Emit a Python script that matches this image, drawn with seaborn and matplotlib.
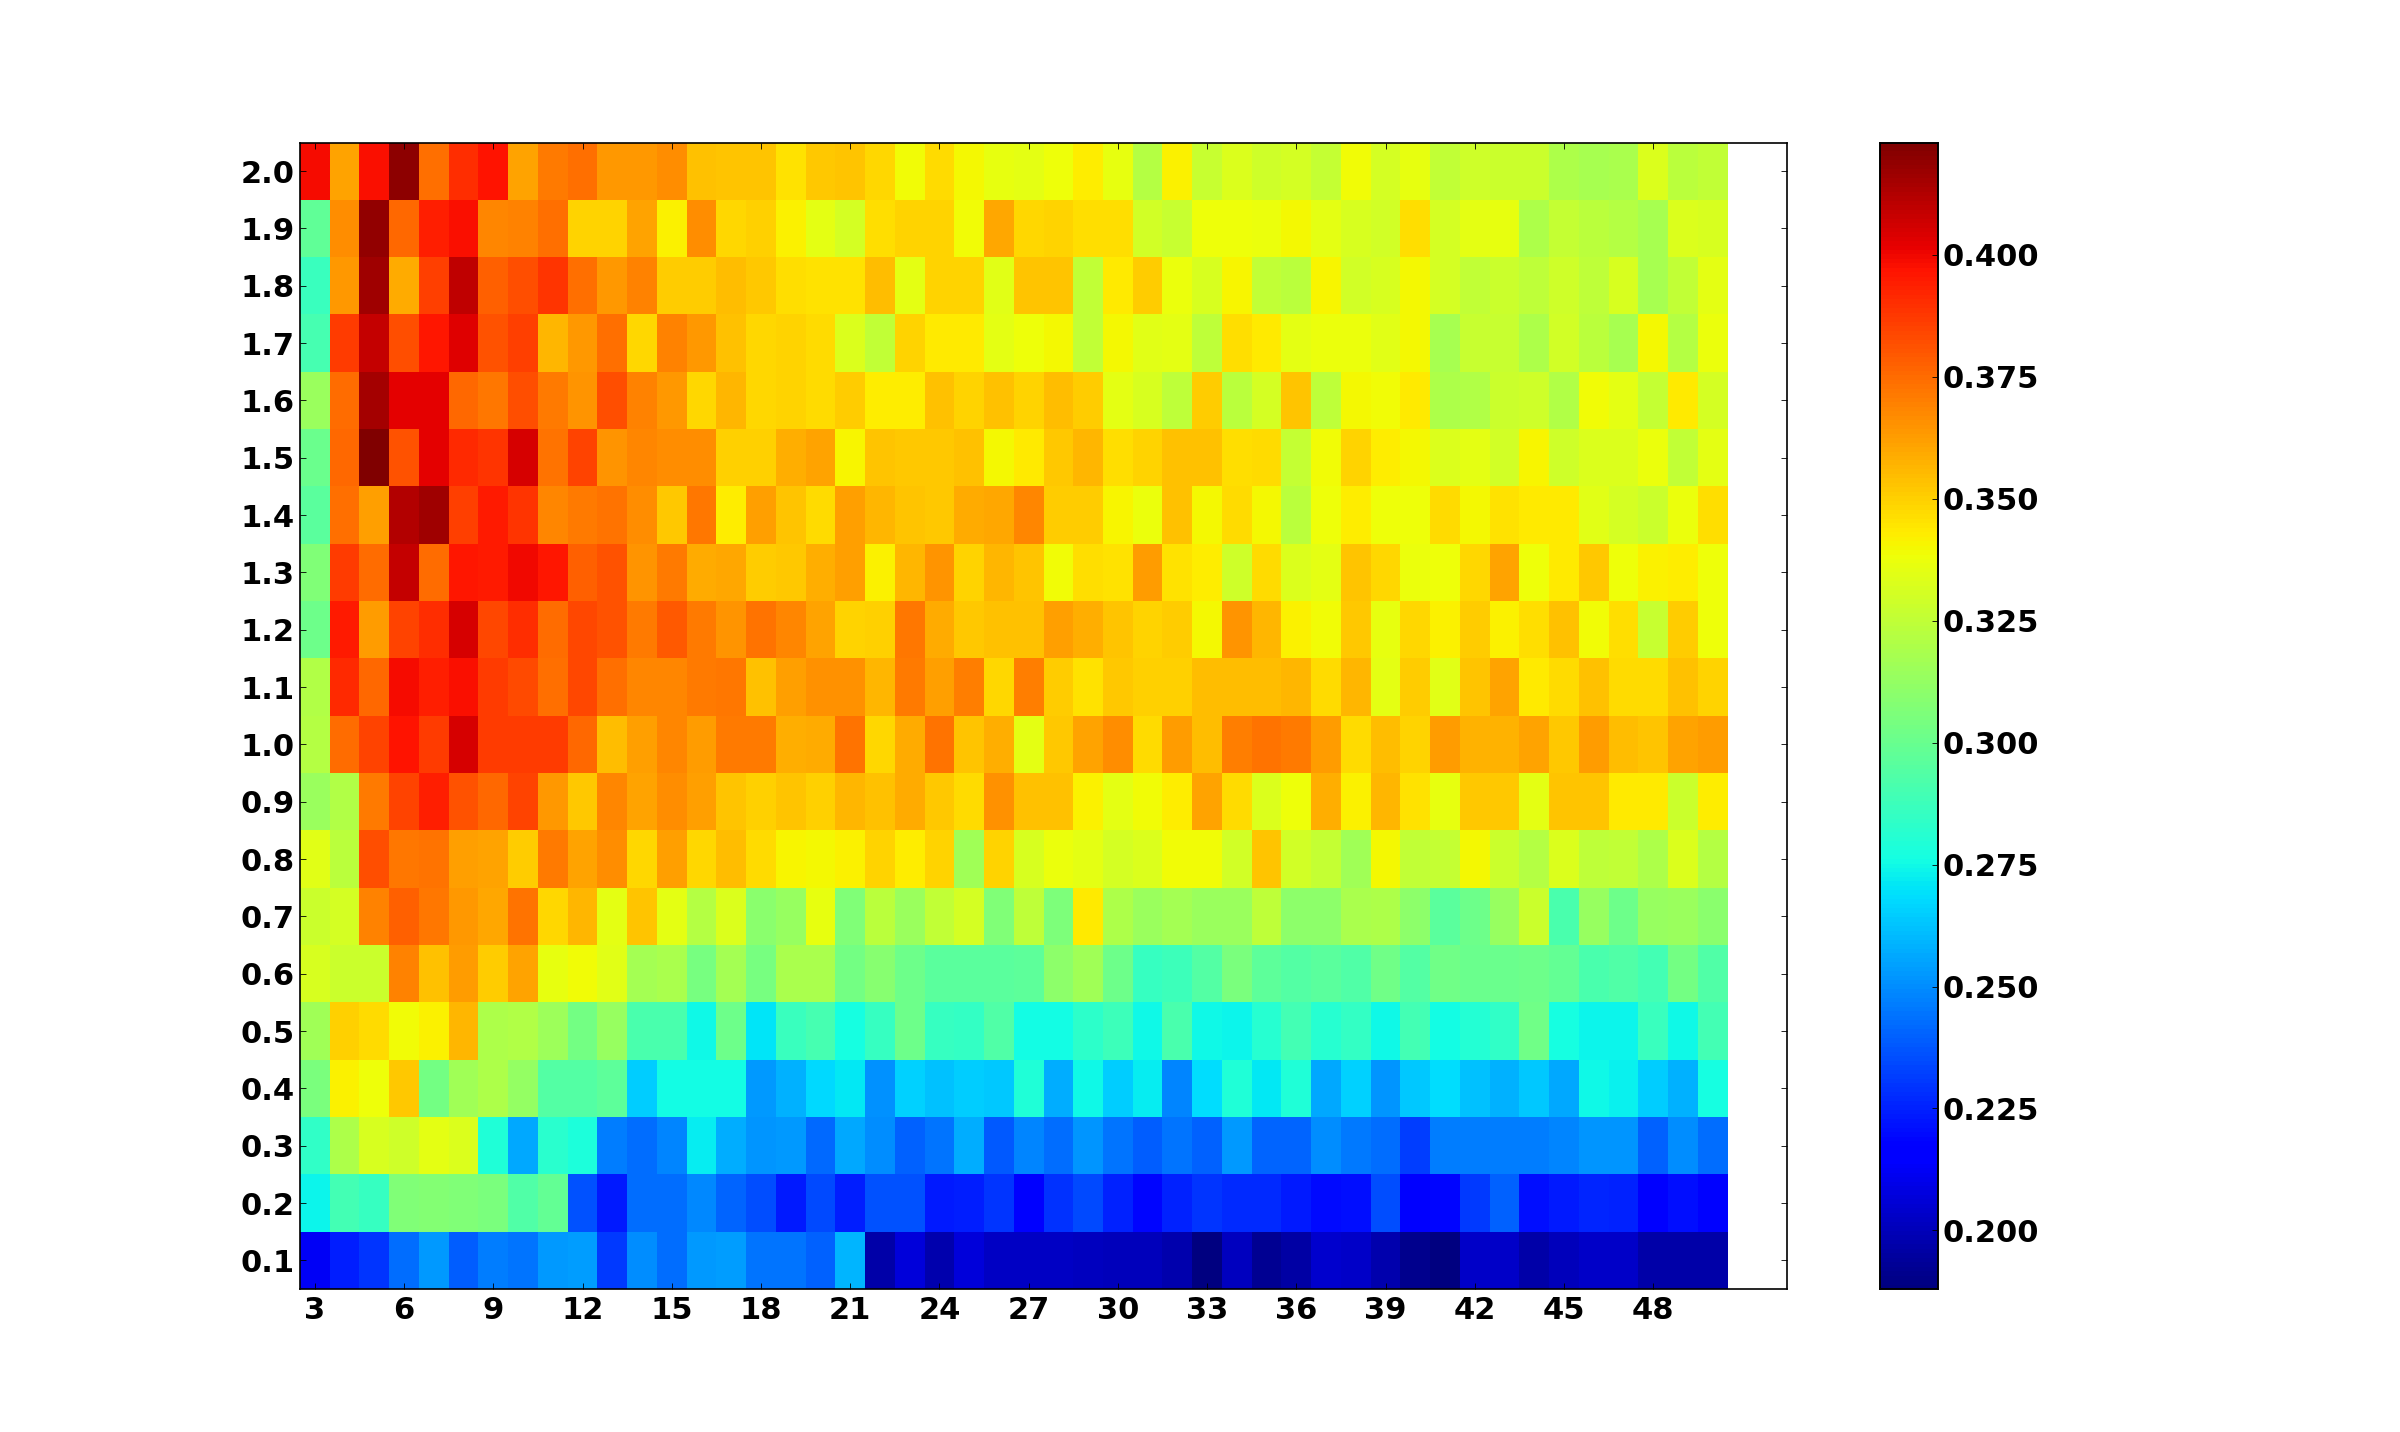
# coding=utf-8
from matplotlib import pyplot as plt
import numpy as np
import pandas as pd
import seaborn as sns

## values, in thousandths, x = 3..50
x_values = list(range(3, 51))
y_values = ['2.0', '1.9', '1.8', '1.7', '1.6', '1.5', '1.4', '1.3', '1.2', '1.1',
            '1.0', '0.9', '0.8', '0.7', '0.6', '0.5', '0.4', '0.3', '0.2', '0.1']

row_20 = [399, 361, 398, 420, 374, 390, 397, 361, 371, 374, 364, 364, 367, 354, 353, 353, 345, 352, 353, 348, 339, 347, 340, 336,
          335, 338, 343, 336, 322, 342, 327, 333, 329, 331, 326, 339, 331, 336, 325, 329, 328, 328, 320, 318, 319, 333, 323, 325]
row_19 = [298, 367, 419, 376, 394, 398, 368, 369, 374, 349, 349, 361, 342, 367, 348, 350, 342, 335, 331, 346, 349, 349, 339, 360,
          348, 349, 346, 346, 330, 327, 338, 338, 337, 340, 335, 332, 330, 346, 331, 335, 336, 320, 326, 323, 322, 318, 333, 332]
row_18 = [287, 364, 416, 359, 386, 410, 378, 382, 389, 374, 364, 369, 351, 351, 355, 352, 346, 345, 345, 355, 335, 349, 349, 334,
          353, 353, 325, 344, 351, 337, 332, 341, 325, 323, 341, 330, 332, 340, 331, 325, 328, 324, 329, 324, 332, 318, 325, 335]
row_17 = [290, 387, 409, 382, 396, 403, 381, 386, 356, 364, 374, 348, 369, 364, 354, 348, 349, 347, 333, 325, 349, 344, 344, 335,
          338, 340, 325, 340, 334, 335, 324, 346, 344, 335, 337, 337, 334, 340, 318, 327, 327, 320, 330, 323, 318, 340, 322, 337]
row_16 = [314, 375, 415, 402, 402, 376, 372, 382, 371, 365, 382, 369, 364, 348, 356, 348, 349, 347, 351, 343, 343, 354, 349, 354,
          349, 355, 351, 335, 332, 324, 351, 323, 331, 353, 324, 340, 339, 344, 320, 321, 328, 329, 321, 339, 335, 326, 344, 331]
row_15 = [300, 376, 423, 381, 402, 391, 389, 405, 373, 385, 365, 368, 367, 367, 350, 350, 358, 361, 341, 353, 352, 352, 354, 340,
          344, 352, 356, 346, 349, 354, 354, 346, 347, 326, 339, 349, 343, 340, 333, 335, 330, 341, 329, 333, 333, 337, 325, 335]
row_14 = [296, 374, 362, 412, 416, 386, 395, 389, 368, 371, 373, 367, 352, 372, 343, 362, 353, 347, 362, 356, 353, 352, 359, 360,
          368, 351, 351, 341, 337, 354, 340, 347, 340, 323, 338, 343, 338, 338, 347, 340, 345, 344, 344, 334, 331, 328, 337, 346]
row_13 = [307, 387, 375, 409, 375, 396, 395, 400, 396, 378, 381, 365, 371, 359, 360, 351, 352, 358, 362, 342, 356, 365, 349, 356,
          353, 339, 346, 345, 363, 345, 343, 329, 347, 333, 335, 353, 348, 337, 338, 348, 361, 338, 344, 352, 338, 342, 343, 338]
row_12 = [301, 395, 363, 385, 390, 405, 384, 390, 375, 384, 381, 371, 379, 371, 365, 373, 368, 361, 349, 350, 372, 359, 352, 354,
          354, 362, 358, 353, 349, 351, 340, 365, 356, 342, 339, 352, 336, 348, 342, 351, 342, 346, 354, 339, 346, 327, 351, 338]
row_11 = [321, 391, 376, 399, 394, 398, 387, 383, 374, 384, 374, 368, 368, 371, 372, 354, 362, 366, 366, 356, 371, 362, 370, 348,
          370, 351, 345, 352, 350, 350, 355, 355, 355, 356, 347, 356, 335, 351, 334, 353, 361, 344, 347, 354, 347, 347, 354, 349]
row_10 = [322, 375, 385, 397, 387, 405, 387, 387, 387, 376, 355, 362, 368, 363, 371, 371, 358, 359, 373, 348, 359, 373, 353, 358,
          335, 352, 361, 367, 347, 363, 355, 370, 373, 371, 363, 347, 355, 349, 363, 357, 357, 361, 352, 363, 355, 353, 361, 363]
row_09 = [314, 321, 371, 385, 394, 381, 376, 385, 364, 352, 368, 361, 367, 362, 353, 350, 353, 350, 356, 354, 359, 352, 347, 366,
          354, 354, 342, 335, 339, 343, 361, 347, 333, 338, 358, 342, 356, 345, 336, 352, 352, 335, 353, 353, 344, 344, 328, 343]
row_08 = [334, 323, 382, 372, 373, 362, 361, 351, 371, 361, 367, 348, 362, 348, 355, 347, 341, 340, 342, 349, 343, 349, 316, 349,
          332, 337, 335, 331, 333, 339, 339, 330, 353, 330, 326, 316, 340, 325, 326, 340, 328, 322, 333, 324, 325, 320, 333, 322]
row_07 = [328, 331, 369, 378, 372, 364, 360, 373, 348, 356, 335, 353, 335, 322, 333, 310, 313, 336, 307, 323, 314, 325, 331, 307,
          324, 306, 344, 320, 314, 317, 314, 314, 324, 311, 311, 319, 320, 311, 296, 301, 313, 328, 291, 313, 301, 313, 314, 310]
row_06 = [332, 328, 328, 369, 354, 363, 351, 361, 336, 339, 334, 317, 319, 304, 317, 304, 319, 319, 303, 309, 301, 296, 296, 296,
          297, 311, 316, 301, 286, 288, 294, 305, 297, 294, 296, 293, 302, 294, 302, 300, 300, 301, 299, 291, 293, 289, 303, 293]
row_05 = [316, 350, 347, 339, 342, 356, 320, 321, 315, 303, 313, 291, 291, 275, 301, 270, 287, 290, 277, 286, 301, 286, 285, 293,
          276, 276, 283, 288, 275, 291, 275, 274, 281, 289, 281, 285, 275, 289, 276, 280, 284, 302, 277, 274, 274, 287, 275, 289]
row_04 = [305, 342, 338, 352, 303, 316, 320, 312, 294, 294, 297, 265, 276, 276, 276, 253, 258, 267, 271, 251, 266, 262, 265, 264,
          279, 257, 275, 265, 272, 248, 268, 279, 271, 279, 256, 266, 252, 264, 268, 262, 258, 264, 256, 275, 273, 265, 258, 277]
row_03 = [284, 320, 332, 329, 335, 333, 279, 256, 282, 278, 246, 243, 248, 272, 257, 252, 253, 242, 256, 250, 240, 244, 257, 238,
          248, 243, 252, 244, 239, 244, 240, 253, 241, 241, 250, 245, 243, 232, 246, 246, 246, 246, 248, 252, 252, 240, 250, 243]
row_02 = [274, 289, 286, 307, 308, 307, 305, 293, 299, 236, 223, 243, 243, 249, 241, 235, 223, 234, 224, 236, 236, 223, 224, 230,
          214, 229, 234, 225, 219, 225, 230, 227, 227, 223, 220, 221, 235, 215, 219, 231, 240, 221, 223, 226, 225, 214, 221, 218]
row_01 = [212, 224, 230, 243, 253, 239, 246, 244, 253, 254, 231, 250, 243, 253, 254, 244, 244, 240, 259, 197, 207, 198, 207, 202,
          202, 202, 201, 200, 200, 198, 188, 201, 192, 196, 204, 203, 198, 191, 188, 203, 203, 197, 200, 203, 203, 197, 197, 197]

rows = [row_20, row_19, row_18, row_17, row_16, row_15, row_14, row_13, row_12, row_11,
        row_10, row_09, row_08, row_07, row_06, row_05, row_04, row_03, row_02, row_01]
cbar_ticks = [0.200, 0.225, 0.250, 0.275, 0.300, 0.325, 0.350, 0.375, 0.400]
vmin = 0.188
vmax = 0.423


def style_axis(axis, length):
    for spine in axis.spines.values():
        spine.set_visible(True)
        spine.set_color('black')
        spine.set_linewidth(1.2)
    axis.tick_params(which='both', direction='in', length=length, width=0.6, color='black')


def main():
    plt.rcParams['font.family'] = ['DejaVu Sans']
    plt.rcParams['font.weight'] = 'bold'

    data = pd.DataFrame(np.array(rows) / 1000.0, index=y_values, columns=x_values)

    fig = plt.figure(figsize=(24, 14.32), dpi=100)
    ax = fig.add_axes([300 / 2400, 1 - 1289 / 1432, 1487 / 2400, 1146.5 / 1432])
    cax = fig.add_axes([1880 / 2400, 1 - 1289 / 1432, 58 / 2400, 1146.5 / 1432])

    sns.heatmap(data, cmap='jet', vmin=vmin, vmax=vmax, ax=ax, cbar_ax=cax,
                xticklabels=3, yticklabels=1, rasterized=True)

    ## axis runs two cells past the data, blank on the right
    ax.set_xlim(0, 50)
    ax.set_xlabel('')
    ax.set_ylabel('')
    style_axis(ax, 4)
    ax.tick_params(top=True, right=True, bottom=True, left=True)
    ax.tick_params(axis='x', labelsize=22, pad=5, labelrotation=0)
    ax.tick_params(axis='y', labelsize=22, pad=4, labelrotation=0)
    for label in ax.get_yticklabels():
        label.set_verticalalignment('center_baseline')

    cax.set_yticks(cbar_ticks)
    cax.set_yticklabels(['%.3f' % t for t in cbar_ticks])
    style_axis(cax, 4)
    cax.tick_params(axis='y', labelsize=22, pad=3, right=True, left=False)

    plt.savefig('out.png', dpi=100)


if __name__ == '__main__':
    main()
